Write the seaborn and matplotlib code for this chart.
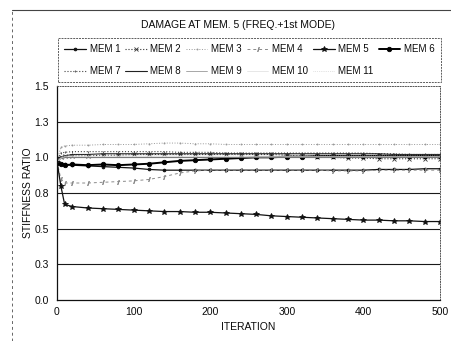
import matplotlib
matplotlib.use("Agg")
import matplotlib.pyplot as plt
from matplotlib.lines import Line2D
import seaborn as sns
import pandas as pd

# Iteration numbers at which the stiffness ratios were recorded
iterations = [0, 5, 10, 20, 40, 60, 80, 100, 120, 140, 160, 180, 200, 220,
              240, 260, 280, 300, 320, 340, 360, 380, 400, 420, 440, 460, 480, 500]

mem1 = [0.97, 0.955, 0.95, 0.945, 0.94, 0.935, 0.93, 0.925, 0.915, 0.91, 0.91, 0.91, 0.91, 0.91,
        0.91, 0.91, 0.91, 0.91, 0.91, 0.91, 0.91, 0.91, 0.91, 0.915, 0.915, 0.915, 0.92, 0.92]
mem2 = [0.97, 1.0, 1.01, 1.01, 1.01, 1.015, 1.015, 1.02, 1.02, 1.02, 1.02, 1.02, 1.02, 1.02,
        1.02, 1.02, 1.02, 1.015, 1.01, 1.0, 1.0, 0.995, 0.995, 0.99, 0.99, 0.99, 0.99, 0.99]
mem3 = [0.97, 1.07, 1.08, 1.085, 1.085, 1.09, 1.09, 1.09, 1.095, 1.1, 1.1, 1.095, 1.095, 1.09,
        1.09, 1.09, 1.09, 1.09, 1.09, 1.09, 1.09, 1.09, 1.09, 1.09, 1.09, 1.09, 1.09, 1.09]
mem4 = [0.97, 0.85, 0.82, 0.82, 0.82, 0.825, 0.83, 0.835, 0.845, 0.865, 0.89, 0.905, 0.91, 0.91,
        0.91, 0.91, 0.91, 0.91, 0.91, 0.91, 0.905, 0.905, 0.905, 0.91, 0.91, 0.91, 0.91, 0.91]
mem5 = [0.97, 0.80, 0.67, 0.655, 0.645, 0.64, 0.635, 0.63, 0.625, 0.62, 0.62, 0.615, 0.615, 0.61,
        0.605, 0.60, 0.59, 0.585, 0.58, 0.575, 0.57, 0.565, 0.56, 0.56, 0.555, 0.555, 0.55, 0.55]
mem6 = [0.96, 0.95, 0.945, 0.95, 0.945, 0.95, 0.945, 0.95, 0.955, 0.965, 0.975, 0.98, 0.985, 0.99,
        0.995, 1.0, 1.0, 1.005, 1.005, 1.01, 1.01, 1.01, 1.01, 1.01, 1.01, 1.01, 1.01, 1.01]
mem7 = [0.97, 1.03, 1.035, 1.04, 1.04, 1.04, 1.04, 1.04, 1.04, 1.04, 1.035, 1.035, 1.035, 1.03,
        1.03, 1.03, 1.03, 1.03, 1.03, 1.03, 1.03, 1.03, 1.03, 1.025, 1.025, 1.02, 1.02, 1.02]
mem8 = [0.97, 1.0, 1.01, 1.02, 1.02, 1.025, 1.025, 1.025, 1.025, 1.025, 1.025, 1.025, 1.025, 1.025,
        1.025, 1.025, 1.025, 1.025, 1.025, 1.025, 1.025, 1.025, 1.025, 1.025, 1.02, 1.02, 1.02, 1.02]
mem9 = [0.97, 0.99, 1.0, 1.0, 1.0, 1.0, 1.0, 1.0, 1.0, 1.0, 1.0, 1.0, 1.0, 1.0,
        1.0, 1.0, 1.0, 1.0, 1.0, 1.0, 1.0, 1.0, 1.0, 1.0, 1.0, 1.0, 1.0, 1.0]
mem10 = [0.97, 0.995, 1.005, 1.005, 1.005, 1.005, 1.005, 1.005, 1.005, 1.005, 1.005, 1.005, 1.005, 1.005,
         1.005, 1.005, 1.005, 1.005, 1.005, 1.005, 1.005, 1.005, 1.005, 1.005, 1.005, 1.005, 1.005, 1.005]
mem11 = [0.97, 1.0, 1.01, 1.015, 1.015, 1.015, 1.015, 1.015, 1.015, 1.015, 1.015, 1.015, 1.015, 1.015,
         1.015, 1.015, 1.015, 1.015, 1.015, 1.015, 1.015, 1.015, 1.015, 1.015, 1.015, 1.015, 1.015, 1.015]

member_names = ["MEM 1", "MEM 2", "MEM 3", "MEM 4", "MEM 5", "MEM 6",
                "MEM 7", "MEM 8", "MEM 9", "MEM 10", "MEM 11"]
member_values = [mem1, mem2, mem3, mem4, mem5, mem6, mem7, mem8, mem9, mem10, mem11]

y_ticks = [0.0, 0.25, 0.5, 0.75, 1.0, 1.25, 1.5]
y_tick_labels = ["0.0", "0.3", "0.5", "0.8", "1.0", "1.3", "1.5"]
x_ticks = [0, 100, 200, 300, 400, 500]

# Line style for each member: colour, linestyle, linewidth, marker, marker size
styles = {
    "MEM 1": dict(color="#111111", ls="-", lw=0.9, marker="o", ms=2.0),
    "MEM 2": dict(color="#333333", ls=":", lw=0.8, marker="x", ms=2.8),
    "MEM 3": dict(color="#9a9a9a", ls=":", lw=0.7, marker=".", ms=1.5),
    "MEM 4": dict(color="#8a8a8a", ls=(0, (3, 3)), lw=0.7, marker="$/$", ms=3.0),
    "MEM 5": dict(color="#111111", ls="-", lw=0.9, marker="*", ms=3.8),
    "MEM 6": dict(color="#000000", ls="-", lw=1.4, marker="o", ms=3.2),
    "MEM 7": dict(color="#444444", ls=":", lw=0.8, marker="|", ms=2.0),
    "MEM 8": dict(color="#222222", ls="-", lw=0.8, marker="_", ms=3.0),
    "MEM 9": dict(color="#999999", ls="-", lw=0.6, marker="", ms=0),
    "MEM 10": dict(color="#dddddd", ls="-", lw=0.5, marker="", ms=0),
    "MEM 11": dict(color="#c8c8c8", ls=":", lw=0.5, marker="", ms=0),
}

sns.set_style("white")
plt.rcParams["font.family"] = ["Liberation Sans", "DejaVu Sans"]
plt.rcParams["font.size"] = 7.5
text_color = "#0a0a0a"

fig = plt.figure(figsize=(4.51, 3.41), dpi=100)
ax = fig.add_axes([57 / 451, 1 - 300 / 341, 383 / 451, 214 / 341])

# Horizontal grid lines behind the data
for yv in y_ticks[1:-1]:
    ax.axhline(yv, color="#1a1a1a", lw=0.8, zorder=0)

handles = {}
for name, vals in zip(member_names, member_values):
    st = styles[name]
    df = pd.DataFrame({"ITERATION": iterations, "RATIO": vals})
    sns.lineplot(data=df, x="ITERATION", y="RATIO", ax=ax, color=st["color"],
                 linestyle=st["ls"], linewidth=st["lw"], marker=st["marker"] or None,
                 markersize=st["ms"], markeredgewidth=0.6, markeredgecolor=st["color"],
                 legend=False)
    handles[name] = Line2D([], [], color=st["color"], linestyle=st["ls"], linewidth=st["lw"],
                           marker=st["marker"] or None, markersize=st["ms"],
                           markeredgewidth=0.6, markeredgecolor=st["color"])

ax.set_xlim(0, 500)
ax.set_ylim(0, 1.5)
ax.set_xticks(x_ticks)
ax.set_xticklabels([str(v) for v in x_ticks])
ax.set_yticks(y_ticks)
ax.set_yticklabels(y_tick_labels)
ax.tick_params(axis="x", direction="in", length=3, width=0.7, pad=5, labelsize=7.5,
               colors=text_color)
ax.tick_params(axis="y", length=0, pad=6, labelsize=7.5, colors=text_color)
ax.set_xlabel("ITERATION", fontsize=7.5, labelpad=4, color=text_color)
ax.set_ylabel("STIFFNESS RATIO", fontsize=7.5, labelpad=1, color=text_color)

for side in ["left", "bottom"]:
    ax.spines[side].set_color("#111111")
    ax.spines[side].set_linewidth(0.9)
for side in ["top", "right"]:
    ax.spines[side].set_color("#555555")
    ax.spines[side].set_linewidth(0.7)
    ax.spines[side].set_linestyle(":")

# Legend laid out row by row: six members on the first row, five on the second
order = [0, 6, 1, 7, 2, 8, 3, 9, 4, 10, 5]
leg = fig.legend([handles[member_names[i]] for i in order],
                 [member_names[i] for i in order],
                 loc="upper left", bbox_to_anchor=(58 / 451, 1 - 38 / 341, 383 / 451, 0.0),
                 mode="expand", ncol=6, fontsize=7, frameon=True, fancybox=False,
                 handlelength=2.2, handletextpad=0.4, labelspacing=1.2,
                 borderpad=0.65, borderaxespad=0.0, columnspacing=0.4)
for t in leg.get_texts():
    t.set_color(text_color)
frame = leg.get_frame()
frame.set_edgecolor("#333333")
frame.set_linewidth(0.7)
frame.set_linestyle((0, (2, 1)))
frame.set_facecolor("white")

fig.text(238 / 451, 1 - 25 / 341, "DAMAGE AT MEM. 5 (FREQ.+1st MODE)",
         ha="center", va="center", fontsize=7.5, color=text_color)

# Outer border of the chart area
fig.add_artist(Line2D([12 / 451, 1.0], [1 - 10 / 341, 1 - 10 / 341],
                      transform=fig.transFigure, color="#444444", lw=0.8))
fig.add_artist(Line2D([12 / 451, 12 / 451], [0.0, 1 - 10 / 341],
                      transform=fig.transFigure, color="#666666", lw=0.7, ls=(0, (3, 3))))

fig.savefig("out.png", dpi=100)
